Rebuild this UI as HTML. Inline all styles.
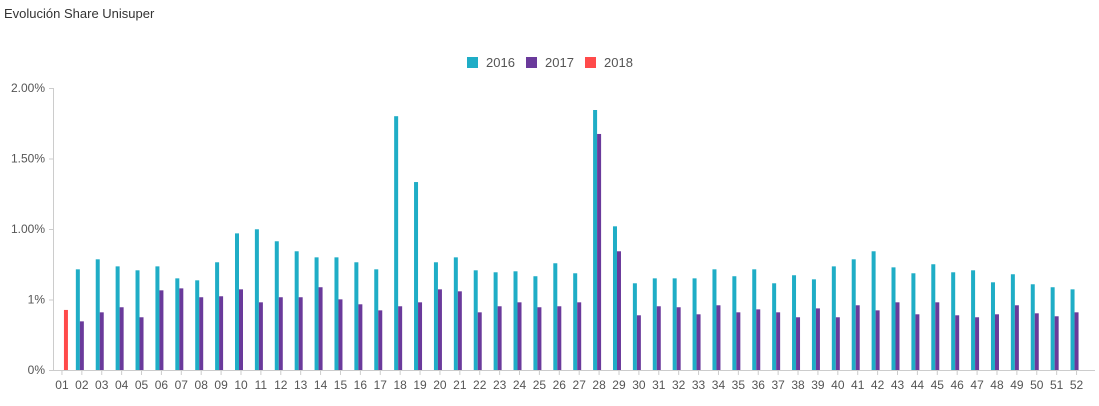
<!DOCTYPE html>
<html><head><meta charset="utf-8"><style>
body{margin:0;background:#fff;width:1099px;height:401px;overflow:hidden;font-family:"Liberation Sans",sans-serif;}
</style></head><body>
<svg id="chart" width="1099" height="401" xmlns="http://www.w3.org/2000/svg">
<text x="4" y="18" font-size="13" fill="#333">Evolución Share Unisuper</text>
<g>
<rect x="467" y="57" width="11" height="11" fill="#1fadc6"/>
<text x="486" y="67" font-size="13" fill="#555">2016</text>
<rect x="526" y="57" width="11" height="11" fill="#6a3a9b"/>
<text x="545" y="67" font-size="13" fill="#555">2017</text>
<rect x="585" y="57" width="11" height="11" fill="#ff4a4a"/>
<text x="604" y="67" font-size="13" fill="#555">2018</text>
</g>
<g id="axes"></g>
<g id="bars"></g>
</svg>
<script>
const weeks = Array.from({length:52},(_,i)=>String(i+1).padStart(2,'0'));
const s2016 = [null,0.714,0.785,0.735,0.707,0.735,0.650,0.636,0.764,0.969,0.998,0.913,0.842,0.799,0.799,0.764,0.714,1.80,1.333,0.764,0.799,0.707,0.693,0.700,0.665,0.757,0.686,1.844,1.019,0.615,0.650,0.650,0.650,0.714,0.665,0.714,0.615,0.672,0.643,0.735,0.785,0.842,0.728,0.686,0.750,0.693,0.707,0.622,0.679,0.608,0.587,0.572];
const s2017 = [null,0.345,0.409,0.445,0.374,0.565,0.579,0.516,0.523,0.572,0.480,0.516,0.516,0.587,0.501,0.466,0.423,0.452,0.480,0.572,0.558,0.409,0.452,0.480,0.445,0.452,0.480,1.674,0.842,0.388,0.452,0.445,0.395,0.459,0.409,0.430,0.409,0.374,0.437,0.374,0.459,0.423,0.480,0.395,0.480,0.388,0.374,0.395,0.459,0.402,0.381,0.409];
const s2018 = [0.426];
const yTicks = [0,0.5,1.0,1.5,2.0];
const yTickLabels = ["0%","1%","1.00%","1.50%","2.00%"];
const series = [{d:s2016,c:"#1fadc6",n:"2016",off:-6},{d:s2017,c:"#6a3a9b",n:"2017",off:-2},{d:s2018,c:"#ff4a4a",n:"2018",off:2}];
const x0=52,x1=1086.5,yBase=370,pxPer=141;
const band=(x1-x0)/weeks.length;
const xs=i=>x0+band*(i+0.5);
const ys=v=>yBase-v*pxPer;
const NS="http://www.w3.org/2000/svg";
const ax=document.getElementById('axes'),bg=document.getElementById('bars');
function mk(tag,attrs,parent){const e=document.createElementNS(NS,tag);for(const k in attrs)e.setAttribute(k,attrs[k]);parent.appendChild(e);return e;}
let l=mk('line',{x1:53.5,x2:53.5,y1:ys(2),y2:yBase,stroke:"#ccc"},ax);


l=mk('line',{x1:53,x2:1095,y1:yBase+0.5,y2:yBase+0.5,stroke:"#ccc"},ax);


yTicks.forEach((v,i)=>{
  mk('line',{x1:49,x2:53,y1:ys(v)+0.5,y2:ys(v)+0.5,stroke:"#ccc"},ax);
  const t=mk('text',{x:45,y:ys(v)+4,"font-size":12,fill:"#555","text-anchor":"end"},ax);
  t.textContent=yTickLabels[i];
  
  
});
weeks.forEach((w,i)=>{
  mk('line',{x1:xs(i),x2:xs(i),y1:yBase,y2:yBase+5,stroke:"#ccc"},ax);
  const t=mk('text',{x:xs(i),y:389,"font-size":12,fill:"#555","text-anchor":"middle"},ax);
  t.textContent=w;
  
  
});
series.forEach(s=>{
  s.d.forEach((v,i)=>{
    if(v==null)return;
    const r=mk('rect',{x:xs(i)+s.off,y:ys(v),width:4,height:yBase-ys(v),fill:s.c},bg);
    
    
  });
});
</script>
</body></html>
